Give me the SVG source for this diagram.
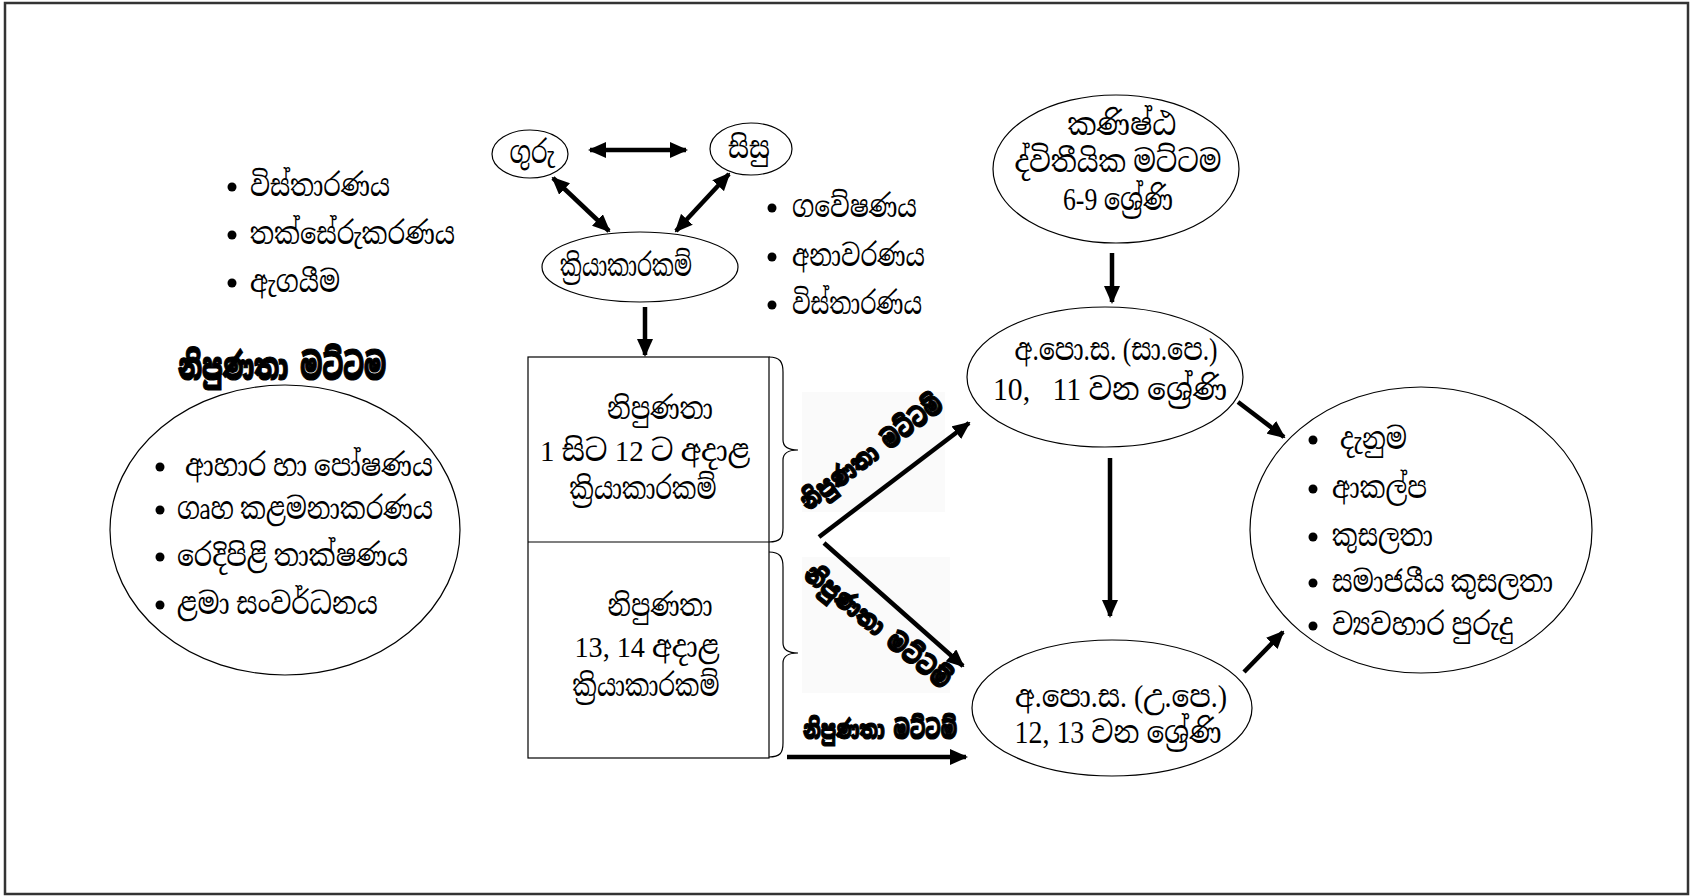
<svg xmlns="http://www.w3.org/2000/svg" width="1690" height="896" viewBox="0 0 1690 896">
<style>
.si{font-family:'Liberation Serif','Noto Serif Sinhala','Noto Sans Sinhala','Iskoola Pota',serif;fill:#000;}
.s24{font-size:30px;}
.s26{font-size:31px;}
.hd{font-family:'Noto Sans Sinhala','Noto Serif Sinhala','Iskoola Pota',sans-serif;font-weight:900;fill:#000;stroke:#000;stroke-width:1.2;}
.nd{fill:#fff;stroke:#000;stroke-width:1.2;}
.ar{fill:none;stroke:#000;stroke-width:4.5;}
.bul{fill:#000;}
</style>
<defs>
<marker id="ah" viewBox="0 0 18 16" refX="16" refY="8" markerWidth="18" markerHeight="16" markerUnits="userSpaceOnUse" orient="auto-start-reverse">
<path d="M0,0 L18,8 L0,16 z" fill="#000"/>
</marker>
</defs>
<rect x="0" y="0" width="1690" height="896" fill="#fff"/>
<rect x="5" y="3" width="1683" height="891" fill="none" stroke="#333" stroke-width="2.5"/>

<g id="label-bg">
<rect x="802" y="392" width="143" height="120" fill="#fafafa"/>
<rect x="802" y="557" width="148" height="136" fill="#fafafa"/>
</g>

<g id="connectors">
<line class="ar" x1="590" y1="150" x2="686" y2="150" marker-start="url(#ah)" marker-end="url(#ah)"/>
<line class="ar" x1="553" y1="178" x2="609" y2="231" marker-start="url(#ah)" marker-end="url(#ah)"/>
<line class="ar" x1="729" y1="174" x2="676" y2="231" marker-start="url(#ah)" marker-end="url(#ah)"/>
<line class="ar" x1="645" y1="307" x2="645" y2="355" marker-end="url(#ah)"/>
<line class="ar" x1="819" y1="537" x2="969" y2="423" marker-end="url(#ah)"/>
<line class="ar" x1="824" y1="543" x2="963" y2="666" marker-end="url(#ah)"/>
<line class="ar" x1="787" y1="757" x2="966" y2="757" marker-end="url(#ah)"/>
<line class="ar" x1="1112" y1="253" x2="1112" y2="302" marker-end="url(#ah)"/>
<line class="ar" x1="1110" y1="458" x2="1110" y2="616" marker-end="url(#ah)"/>
<line class="ar" x1="1238" y1="402" x2="1284" y2="437" marker-end="url(#ah)"/>
<line class="ar" x1="1244" y1="672" x2="1283" y2="632" marker-end="url(#ah)"/>
<path d="M769,357 C780,357 783,362 783,372 L783,440 C783,447 788,450 798,450 C788,450 783,453 783,460 L783,528 C783,538 780,542 769,542" fill="none" stroke="#000" stroke-width="1.2"/>
<path d="M769,552 C780,552 783,557 783,567 L783,643 C783,650 788,653 798,653 C788,653 783,656 783,663 L783,743 C783,753 780,757 769,757" fill="none" stroke="#000" stroke-width="1.2"/>
</g>

<g id="list-top-left">
<circle class="bul" cx="232" cy="187" r="4.5"/>
<circle class="bul" cx="232" cy="235" r="4.5"/>
<circle class="bul" cx="232" cy="283" r="4.5"/>
<text class="si s24" x="250" y="196" textLength="140" lengthAdjust="spacingAndGlyphs">විස්තාරණය</text>
<text class="si s24" x="250" y="244" textLength="205" lengthAdjust="spacingAndGlyphs">තක්සේරුකරණය</text>
<text class="si s24" x="250" y="292" textLength="90" lengthAdjust="spacingAndGlyphs">ඇගයීම</text>
</g>

<g id="heading">
<text class="hd" x="282" y="380" font-size="37" text-anchor="middle" textLength="208" lengthAdjust="spacingAndGlyphs">නිපුණතා මට්ටම</text>
</g>

<g id="node-subjects">
<ellipse class="nd" cx="285" cy="530" rx="175" ry="145"/>
<circle class="bul" cx="160" cy="467" r="4.5"/>
<circle class="bul" cx="160" cy="510" r="4.5"/>
<circle class="bul" cx="160" cy="557" r="4.5"/>
<circle class="bul" cx="160" cy="605" r="4.5"/>
<text class="si s24" x="185" y="476" textLength="248" lengthAdjust="spacingAndGlyphs">ආහාර හා පෝෂණය</text>
<text class="si s24" x="177" y="519" textLength="256" lengthAdjust="spacingAndGlyphs">ගෘහ කළමනාකරණය</text>
<text class="si s24" x="177" y="566" textLength="231" lengthAdjust="spacingAndGlyphs">රෙදිපිළි තාක්ෂණය</text>
<text class="si s24" x="177" y="614" textLength="201" lengthAdjust="spacingAndGlyphs">ළමා සංවර්ධනය</text>
</g>

<g id="node-guru">
<ellipse class="nd" cx="530" cy="154" rx="38" ry="24"/>
<text class="si s24" x="532" y="163" text-anchor="middle" textLength="45" lengthAdjust="spacingAndGlyphs">ගුරු</text>
</g>

<g id="node-sisu">
<ellipse class="nd" cx="751" cy="149" rx="41" ry="26"/>
<text class="si s24" x="749" y="158" text-anchor="middle" textLength="42" lengthAdjust="spacingAndGlyphs">සිසු</text>
</g>

<g id="node-activities">
<ellipse class="nd" cx="640" cy="267" rx="98" ry="35"/>
<text class="si s24" x="626" y="276" text-anchor="middle" textLength="132" lengthAdjust="spacingAndGlyphs">ක්‍රියාකාරකම්</text>
</g>

<g id="list-center">
<circle class="bul" cx="772" cy="208" r="4.5"/>
<circle class="bul" cx="772" cy="257" r="4.5"/>
<circle class="bul" cx="772" cy="305" r="4.5"/>
<text class="si s24" x="792" y="217" textLength="125" lengthAdjust="spacingAndGlyphs">ගවේෂණය</text>
<text class="si s24" x="792" y="266" textLength="133" lengthAdjust="spacingAndGlyphs">අනාවරණය</text>
<text class="si s24" x="792" y="314" textLength="130" lengthAdjust="spacingAndGlyphs">විස්තාරණය</text>
</g>

<g id="node-box">
<rect x="528" y="357" width="241" height="401" fill="#fff" stroke="#000" stroke-width="1.2"/>
<line x1="528" y1="542" x2="769" y2="542" stroke="#000" stroke-width="1.2"/>
<text class="si s24" x="660" y="419" text-anchor="middle" textLength="106" lengthAdjust="spacingAndGlyphs">නිපුණතා</text>
<text class="si s24" x="645" y="461" text-anchor="middle" textLength="210" lengthAdjust="spacingAndGlyphs">1 සිට 12 ට අදාළ</text>
<text class="si s24" x="643" y="499" text-anchor="middle" textLength="147" lengthAdjust="spacingAndGlyphs">ක්‍රියාකාරකම්</text>
<text class="si s24" x="660" y="616" text-anchor="middle" textLength="105" lengthAdjust="spacingAndGlyphs">නිපුණතා</text>
<text class="si s24" x="647" y="657" text-anchor="middle" textLength="145" lengthAdjust="spacingAndGlyphs">13, 14 අදාළ</text>
<text class="si s24" x="646" y="696" text-anchor="middle" textLength="147" lengthAdjust="spacingAndGlyphs">ක්‍රියාකාරකම්</text>
</g>

<g id="arrow-labels">
<text class="hd" font-size="26" text-anchor="middle" transform="translate(877,460) rotate(-37)" textLength="172" lengthAdjust="spacingAndGlyphs">නිපුණතා මට්ටම්</text>
<text class="hd" font-size="26" text-anchor="middle" transform="translate(872,634) rotate(39)" textLength="180" lengthAdjust="spacingAndGlyphs">නිපුණතා මට්ටම්</text>
<text class="hd" font-size="26" x="880" y="739" text-anchor="middle" textLength="154" lengthAdjust="spacingAndGlyphs">නිපුණතා මට්ටම්</text>
</g>

<g id="node-junior">
<ellipse class="nd" cx="1116" cy="169" rx="123" ry="74"/>
<text class="si s26" x="1122" y="135" text-anchor="middle" textLength="109" lengthAdjust="spacingAndGlyphs">කණිෂ්ඨ</text>
<text class="si s26" x="1118" y="172" text-anchor="middle" textLength="207" lengthAdjust="spacingAndGlyphs">ද්විතීයික මට්ටම</text>
<text class="si s26" x="1118" y="210" text-anchor="middle" textLength="110" lengthAdjust="spacingAndGlyphs">6-9 ශ්‍රේණි</text>
</g>

<g id="node-ol">
<ellipse class="nd" cx="1105" cy="377" rx="138" ry="70"/>
<text class="si s26" x="1116" y="360" text-anchor="middle" textLength="203" lengthAdjust="spacingAndGlyphs">අ.පො.ස. (සා.පෙ.)</text>
<text class="si s26" x="1110" y="400" text-anchor="middle" textLength="234" lengthAdjust="spacingAndGlyphs">10,&#160;&#160; 11 වන ශ්‍රේණි</text>
</g>

<g id="node-al">
<ellipse class="nd" cx="1112" cy="708" rx="140" ry="68"/>
<text class="si s26" x="1121" y="707" text-anchor="middle" textLength="212" lengthAdjust="spacingAndGlyphs">අ.පො.ස. (උ.පෙ.)</text>
<text class="si s26" x="1118" y="743" text-anchor="middle" textLength="207" lengthAdjust="spacingAndGlyphs">12, 13 වන ශ්‍රේණි</text>
</g>

<g id="node-outcomes">
<ellipse class="nd" cx="1421" cy="530" rx="171" ry="143"/>
<circle class="bul" cx="1313" cy="440" r="4.5"/>
<circle class="bul" cx="1313" cy="489" r="4.5"/>
<circle class="bul" cx="1313" cy="537" r="4.5"/>
<circle class="bul" cx="1313" cy="583" r="4.5"/>
<circle class="bul" cx="1313" cy="626" r="4.5"/>
<text class="si s24" x="1340" y="449" textLength="67" lengthAdjust="spacingAndGlyphs">දැනුම</text>
<text class="si s24" x="1332" y="498" textLength="95" lengthAdjust="spacingAndGlyphs">ආකල්ප</text>
<text class="si s24" x="1332" y="546" textLength="101" lengthAdjust="spacingAndGlyphs">කුසලතා</text>
<text class="si s24" x="1332" y="592" textLength="221" lengthAdjust="spacingAndGlyphs">සමාජයීය කුසලතා</text>
<text class="si s24" x="1332" y="635" textLength="181" lengthAdjust="spacingAndGlyphs">ව්‍යවහාර පුරුදු</text>
</g>
</svg>
